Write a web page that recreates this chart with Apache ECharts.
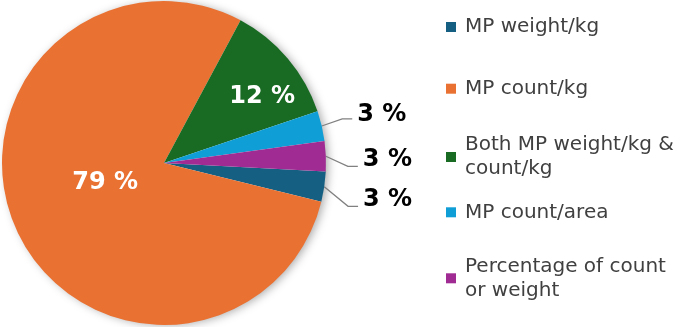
<!DOCTYPE html>
<html><head><meta charset="utf-8">
<script src="https://cdn.jsdelivr.net/npm/echarts@6/dist/echarts.min.js"></script>
<style>html,body{margin:0;padding:0;background:#fff}#c{width:685px;height:327px}</style>
</head><body><div id="c"></div>
<script>
// ---- data ----
const categories = ['MP weight/kg', 'MP count/kg', 'Both MP weight/kg & count/kg', 'MP count/area', 'Percentage of count or weight'];
const values = [3, 79, 12, 3, 3];
const legendLabels = ['MP weight/kg', 'MP count/kg', 'Both MP weight/kg &\ncount/kg', 'MP count/area', 'Percentage of count\nor weight'];

// ---- style ----
const colors = ['#156082', '#E97132', '#196B24', '#0F9ED5', '#A02B93'];
const insideLabel = [false, true, true, false, false];
const labelShift = [[7, 10], [18, -14], [34, -12], [4, -7], [5, 4]];
const lineDrop = [7, 0, 0, 4, 7];
const legendCenters = [27, 88.7, 157, 212.3, 278.3];
const FONT = 'DejaVu Sans';
const LH = 24;

const chart = echarts.init(document.getElementById('c'), null, {renderer: 'canvas'});

const legends = categories.map((name, i) => {
  const twoLine = legendLabels[i].indexOf('\n') >= 0;
  const pad = twoLine ? [LH, 0, 6, 4] : [0, 0, 6, 4];
  const h = (twoLine ? 2 * LH : LH) + pad[0] + pad[2];
  return {
    data: [name],
    orient: 'vertical',
    left: 446,
    top: legendCenters[i] - h / 2,
    padding: 0,
    itemWidth: 10,
    itemHeight: 10,
    icon: 'rect',
    selectedMode: false,
    formatter: () => legendLabels[i],
    textStyle: {fontFamily: FONT, fontSize: 20, color: '#404040', lineHeight: LH, padding: pad}
  };
});

const pieData = categories.map((name, i) => ({
  name: name,
  value: values[i],
  itemStyle: {color: colors[i]},
  label: insideLabel[i]
    ? {position: 'inside', color: '#fff'}
    : {position: 'outside', color: '#000'},
  labelLine: {show: !insideLabel[i]}
}));

chart.setOption({
  animation: false,
  backgroundColor: '#fff',
  legend: legends,
  series: [
    {
      type: 'pie',
      silent: true,
      center: [164, 163],
      radius: 161,
      startAngle: -3,
      z: 1,
      label: {show: false},
      labelLine: {show: false},
      data: [{value: 1, name: '_shadow', itemStyle: {color: '#fff', shadowBlur: 10, shadowOffsetX: 3, shadowOffsetY: 1, shadowColor: 'rgba(0,0,0,0.35)'}}]
    },
    {
      type: 'pie',
      center: [164, 163],
      radius: 162,
      startAngle: -3,
      clockwise: true,
      z: 2,
      avoidLabelOverlap: false,
      label: {
        show: true,
        formatter: '{c} %',
        fontFamily: FONT,
        fontWeight: 'bold',
        fontSize: 24,
        distanceToLabelLine: 4
      },
      labelLine: {length: 18, length2: 10, lineStyle: {color: '#808080', width: 1.3}},
      labelLayout: function (p) {
        const i = p.dataIndex;
        const s = labelShift[i];
        const out = {dx: s[0], dy: s[1]};
        if (!insideLabel[i] && p.labelLinePoints && p.labelRect) {
          const r = p.labelRect;
          const x2 = r.x + s[0] - 5;
          const y2 = r.y + s[1] + r.height / 2 + lineDrop[i];
          out.labelLinePoints = [p.labelLinePoints[0].slice(), [x2 - 10, y2], [x2, y2]];
        }
        return out;
      },
      emphasis: {disabled: true},
      data: pieData
    }
  ]
});
</script>
</body></html>
